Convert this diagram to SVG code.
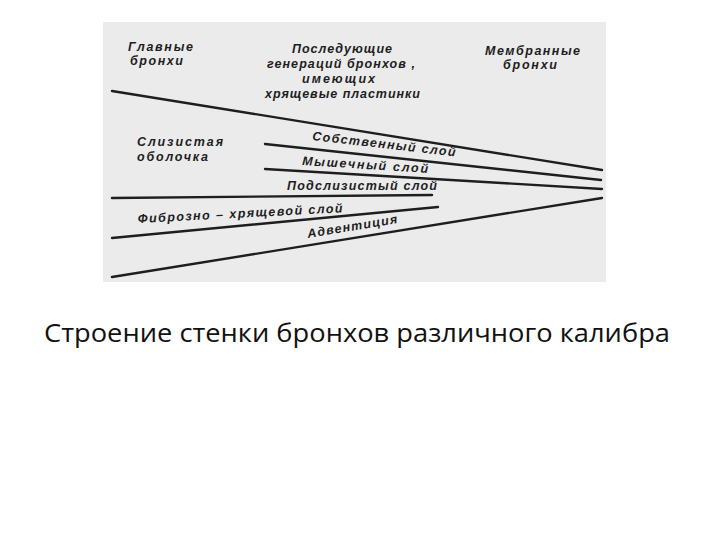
<svg xmlns="http://www.w3.org/2000/svg" width="720" height="540" viewBox="0 0 720 540">
<style>
.lbl{font-family:"Liberation Sans",Arial,sans-serif;font-style:italic;font-weight:bold;font-size:12.5px;fill:#1e1e1e}
.ln{stroke:#1e1e1e;stroke-width:2.4;stroke-linecap:round;fill:none}
.cap{font-family:"Open Sans","Noto Sans",sans-serif;font-size:26px;fill:#111}
</style>
<rect width="720" height="540" fill="#ffffff"/>
<rect id="figure-bg" x="103" y="22" width="503" height="260" fill="#ebebeb"/>
<g id="connectors">
<line class="ln" x1="112" y1="91" x2="602" y2="170"/>
<line class="ln" x1="265" y1="144" x2="601" y2="180"/>
<line class="ln" x1="265" y1="169" x2="602" y2="189"/>
<line class="ln" x1="112" y1="198" x2="432" y2="195"/>
<line class="ln" x1="112" y1="238" x2="438" y2="207"/>
<line class="ln" x1="112" y1="277" x2="602" y2="198"/>
</g>
<g id="main-bronchi">
<text class="lbl" x="128" y="51" textLength="65" lengthAdjust="spacing">Главные</text>
<text class="lbl" x="130" y="65" textLength="53" lengthAdjust="spacing">бронхи</text>
</g>
<g id="subsequent-generations">
<text class="lbl" x="292" y="53" textLength="100" lengthAdjust="spacing">Последующие</text>
<text class="lbl" x="267" y="68" textLength="148" lengthAdjust="spacing">генераций бронхов ,</text>
<text class="lbl" x="302" y="83" textLength="73" lengthAdjust="spacing">имеющих</text>
<text class="lbl" x="265" y="98" textLength="155" lengthAdjust="spacing">хрящевые пластинки</text>
</g>
<g id="membrane-bronchi">
<text class="lbl" x="485" y="55" textLength="95" lengthAdjust="spacing">Мембранные</text>
<text class="lbl" x="503" y="69" textLength="54" lengthAdjust="spacing">бронхи</text>
</g>
<g id="mucosa">
<text class="lbl" x="137" y="146" textLength="86" lengthAdjust="spacing">Слизистая</text>
<text class="lbl" x="137" y="161" textLength="71" lengthAdjust="spacing">оболочка</text>
</g>
<g id="lamina-propria">
<text class="lbl" transform="translate(312,140) rotate(6.5)" textLength="144" lengthAdjust="spacing">Собственный слой</text>
</g>
<g id="muscular-layer">
<text class="lbl" transform="translate(302,165) rotate(3.6)" textLength="126" lengthAdjust="spacing">Мышечный слой</text>
</g>
<g id="submucosa">
<text class="lbl" transform="translate(287,190)" textLength="150" lengthAdjust="spacing">Подслизистый слой</text>
</g>
<g id="fibrocartilaginous-layer">
<text class="lbl" transform="translate(138,223) rotate(-3)" textLength="205" lengthAdjust="spacing">Фиброзно – хрящевой слой</text>
</g>
<g id="adventitia">
<text class="lbl" transform="translate(308,238) rotate(-9.5)" textLength="91" lengthAdjust="spacing">Адвентиция</text>
</g>
<g id="caption">
<text class="cap" x="44" y="342" textLength="626" lengthAdjust="spacingAndGlyphs">Строение стенки бронхов различного калибра</text>
</g>
</svg>
